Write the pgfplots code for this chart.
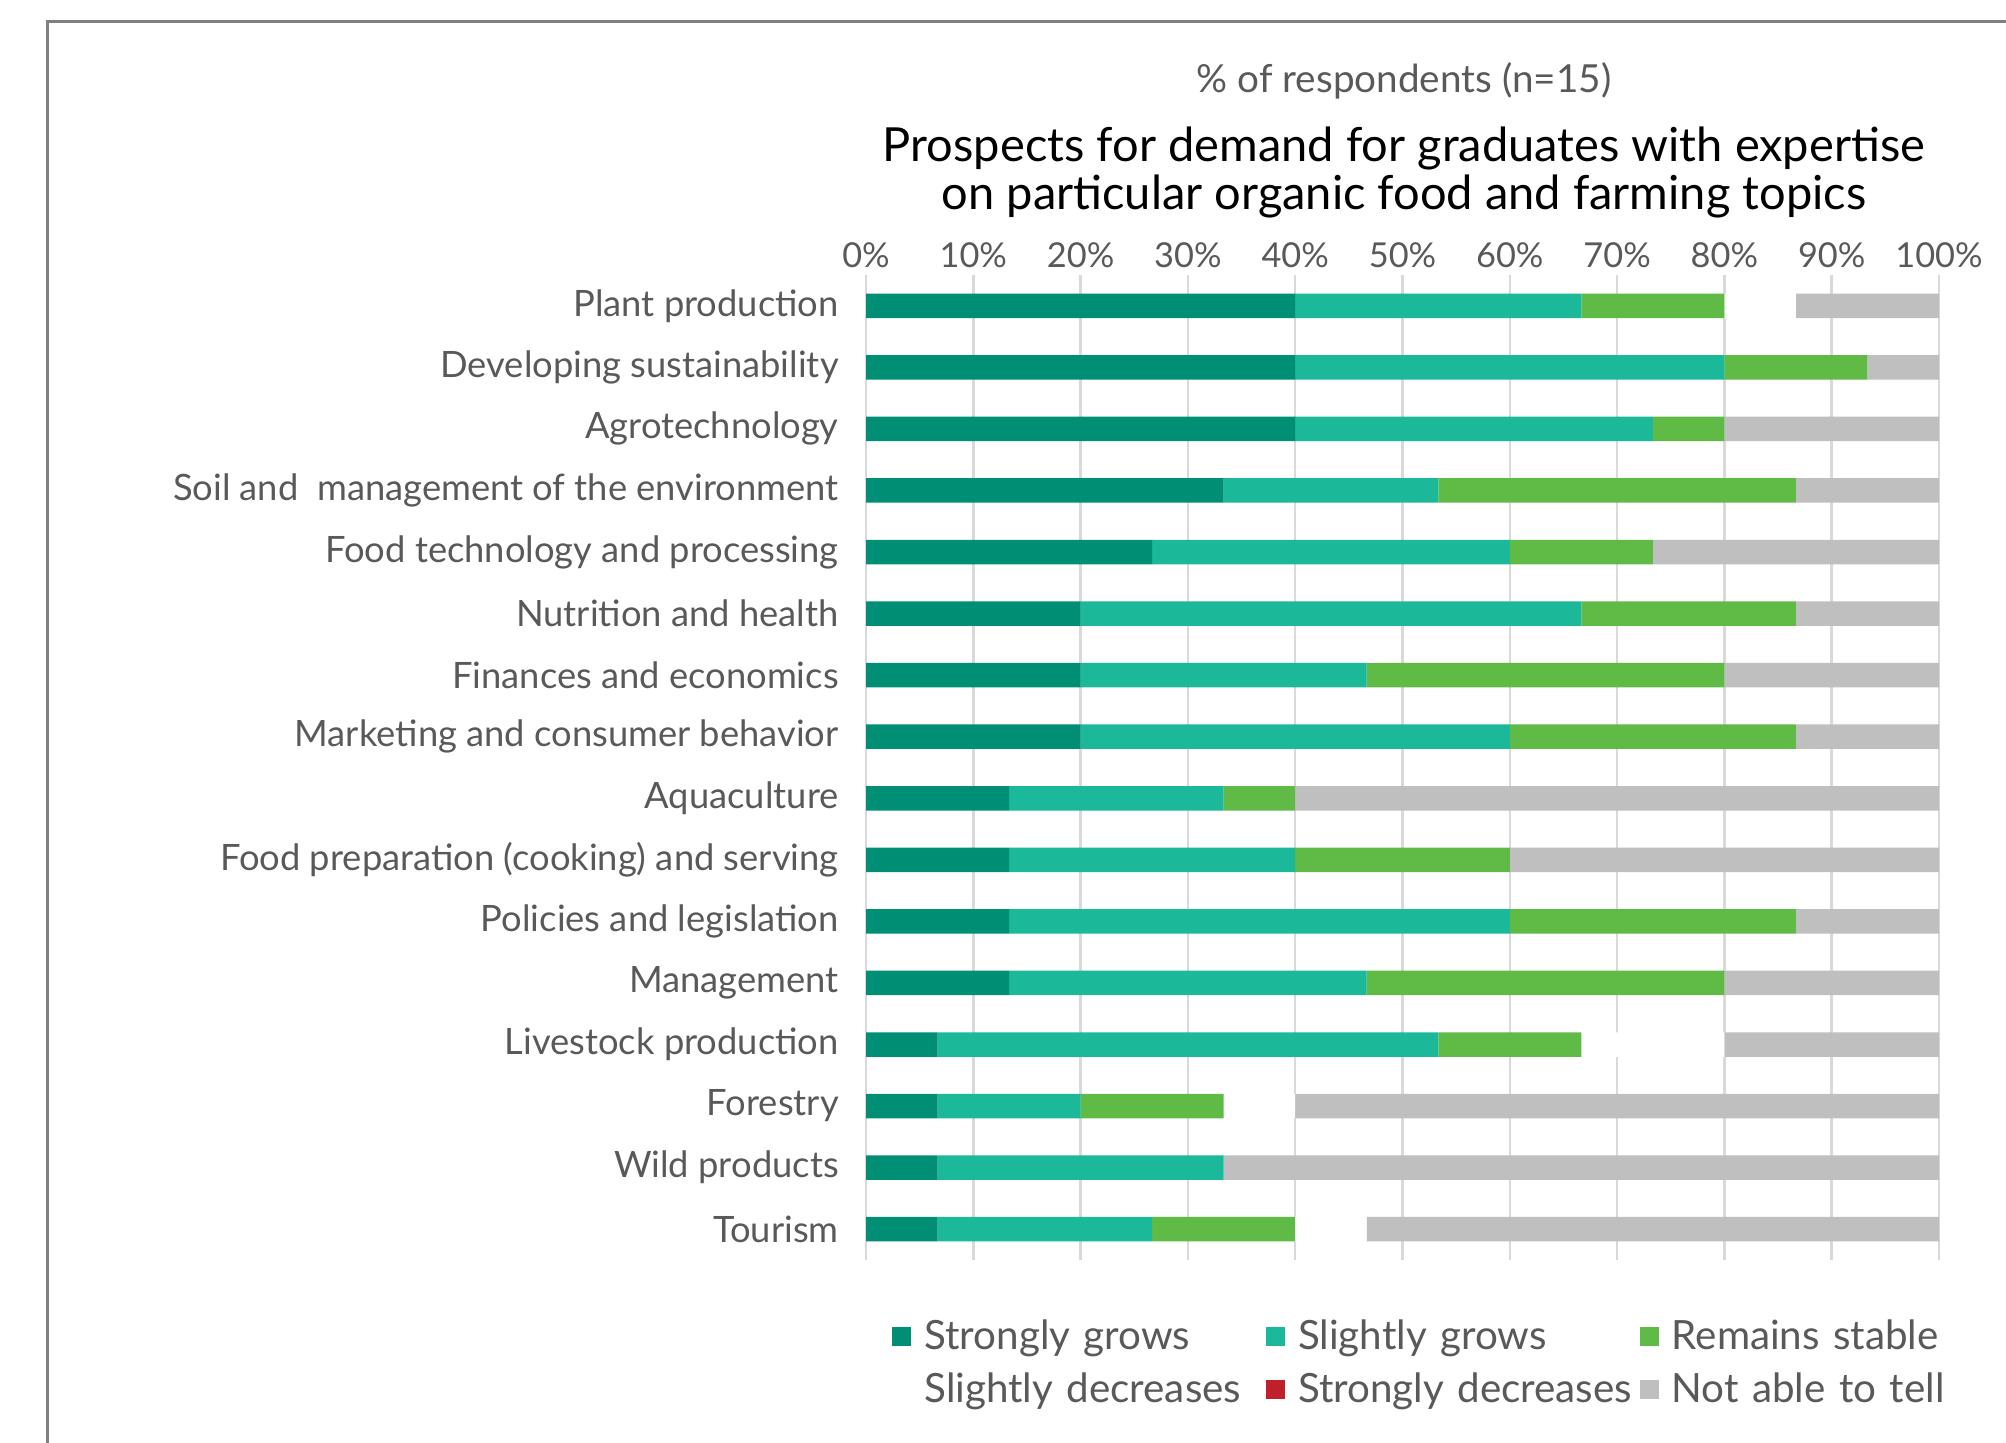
\documentclass[border=0pt]{standalone}
\usepackage{fontspec}
\setmainfont{Lato}
\usepackage{pgfplots}
\usepackage{pgfplotstable}
\pgfplotsset{compat=1.18}
\definecolor{sgc}{RGB}{0,142,116}
\definecolor{slgc}{RGB}{27,184,153}
\definecolor{stc}{RGB}{95,187,70}
\definecolor{stdc}{RGB}{192,32,42}
\definecolor{nac}{RGB}{191,191,191}
\definecolor{gridc}{RGB}{217,217,217}
\definecolor{txt}{RGB}{89,89,89}
\definecolor{framec}{RGB}{128,128,128}
\pgfplotstableread{
y sg slg st sd std na
0 40 26.667 13.333 6.667 0 13.333
1 40 40 13.333 0 0 6.667
2 40 33.333 6.667 0 0 20
3 33.333 20 33.333 0 0 13.333
4 26.667 33.333 13.333 0 0 26.667
5 20 46.667 20 0 0 13.333
6 20 26.667 33.333 0 0 20
7 20 40 26.667 0 0 13.333
8 13.333 20 6.667 0 0 60
9 13.333 26.667 20 0 0 40
10 13.333 46.667 26.667 0 0 13.333
11 13.333 33.333 33.333 0 0 20
12 6.667 46.667 13.333 13.333 0 20
13 6.667 13.333 13.333 6.667 0 60
14 6.667 26.667 0 0 0 66.667
15 6.667 20 13.333 6.667 0 53.333
}\datatable
\begin{document}
\begin{tikzpicture}
\useasboundingbox (0,0) rectangle (601.8pt,432.9pt);
\draw[framec, line width=0.9pt] (14.1pt,-5pt) -- (14.1pt,426.3pt) -- (610pt,426.3pt);
\node[txt, font=\fontsize{11.6}{13}\selectfont] at (421.2pt,408.5pt) {\% of respondents (n=15)};
\node[black, align=center, font=\fontsize{14.1}{14.6}\selectfont] at (421.2pt,381.1pt) {Prospects for demand for graduates with expertise\\on particular organic food and farming topics};
\begin{axis}[
  at={(259.8pt,54.9pt)}, anchor=south west,
  scale only axis, width=321.9pt, height=295.5pt,
  xbar stacked, bar width=7.35pt,
  xmin=0, xmax=100, ymin=-0.5, ymax=15.5,
  y dir=reverse,
  axis line style={draw=none},
  tick style={draw=none},
  xtick={0,10,...,100},
  xticklabel pos=upper,
  xticklabel={\pgfmathprintnumber{\tick}\%},
  /pgf/number format/assume math mode=true,
  xmajorgrids, major grid style={gridc, line width=0.75pt},
  ytick={0,...,15},
  yticklabels={Plant production, Developing sustainability, Agrotechnology, Soil and\ \ management of the environment, Food technology and processing, Nutrition and health, Finances and economics, Marketing and consumer behavior, Aquaculture, Food preparation (cooking) and serving, Policies and legislation, Management, Livestock production, Forestry, Wild products, Tourism},
  yticklabel style={txt, font=\fontsize{10.9}{12}\selectfont, inner xsep=0pt, xshift=-8pt},
  xticklabel style={txt, font=\fontsize{10.3}{12}\selectfont, inner sep=0pt, yshift=1.9pt},
  legend columns=3,
  legend cell align=left,
  legend image code/.code={\path[#1] (0pt,-2.85pt) rectangle (5.7pt,2.85pt); \path (7.6pt,0pt);},
  legend style={at={(axis description cs:0.024,-0.053)}, anchor=north west, draw=none, inner sep=0pt,
    font=\fontsize{12.1}{13}\selectfont, text=txt, row sep=1.5pt,
    /tikz/every even column/.append style={column sep=0pt, text width=100.5pt}},
]
\addplot[fill=sgc, draw=none] table[x=sg, y=y] {\datatable};
\addlegendentry{Strongly grows}
\addplot[fill=slgc, draw=none] table[x=slg, y=y] {\datatable};
\addlegendentry{Slightly grows}
\addplot[fill=stc, draw=none] table[x=st, y=y] {\datatable};
\addlegendentry{Remains stable}
\addplot[fill=white, draw=none] table[x=sd, y=y] {\datatable};
\addlegendentry{Slightly decreases}
\addplot[fill=stdc, draw=none] table[x=std, y=y] {\datatable};
\addlegendentry{Strongly decreases}
\addplot[fill=nac, draw=none] table[x=na, y=y] {\datatable};
\addlegendentry{Not able to tell}
\end{axis}
\end{tikzpicture}
\end{document}
